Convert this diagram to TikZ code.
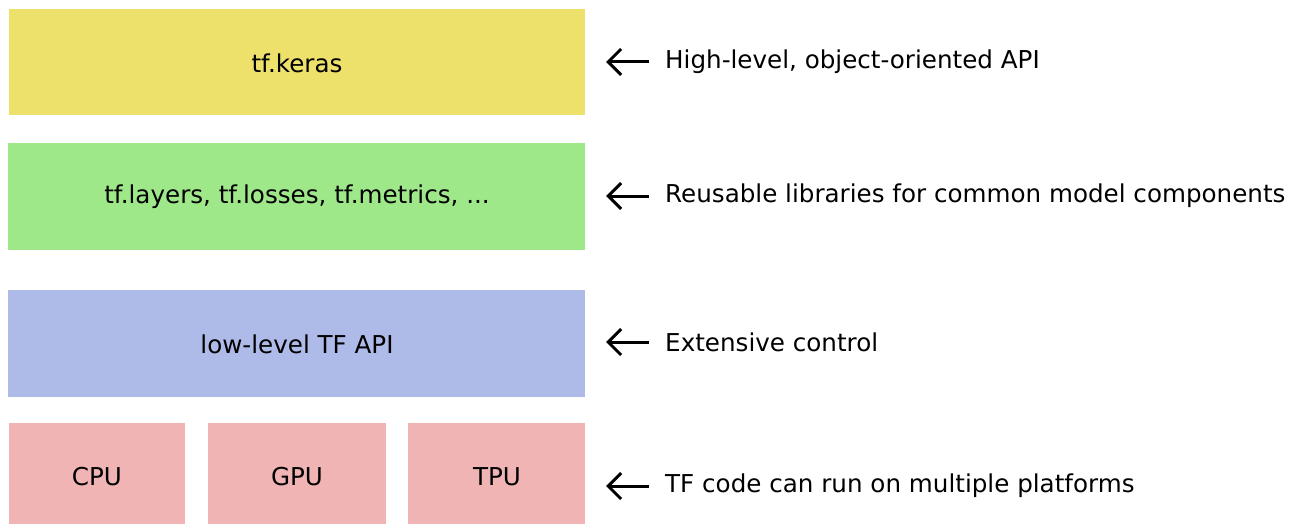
\documentclass[tikz,border=0pt]{standalone}
\usepackage{fontspec}
\setmainfont{DejaVu Sans}
\usetikzlibrary{arrows.meta}
\definecolor{cyel}{RGB}{237,225,107}
\definecolor{cgrn}{RGB}{158,232,138}
\definecolor{cblu}{RGB}{174,187,232}
\definecolor{cpnk}{RGB}{240,180,180}
\begin{document}
\begin{tikzpicture}[x=1pt,y=-1pt,
  layer/.style={inner sep=0pt, outer sep=0pt, font=\fontsize{24.6}{29}\selectfont},
  note/.style={anchor=west, inner sep=0pt, font=\fontsize{24.6}{29}\selectfont},
  pt/.style={-{Straight Barb[length=13pt,width=26pt,line width=3pt]}, line width=3pt}]
\useasboundingbox (0,0) rectangle (1306,524);
\fill[cyel] (9,9) rectangle (585,115);
\node[layer] (keras) at (297,63) {tf.keras};
\fill[cgrn] (8,143) rectangle (585,250);
\node[layer] (libs) at (297,197) {tf.layers, tf.losses, tf.metrics, ...};
\fill[cblu] (8,290) rectangle (585,397);
\node[layer] (low) at (297,344) {low-level TF API};
\fill[cpnk] (9,423) rectangle (185,524);
\fill[cpnk] (208,423) rectangle (386,524);
\fill[cpnk] (408,423) rectangle (585,524);
\node[layer] (cpu) at (97,477) {CPU};
\node[layer] (gpu) at (297,477) {GPU};
\node[layer] (tpu) at (497,477) {TPU};
\node[note] (n1) at (665,62) {High-level, object-oriented API};
\node[note] (n2) at (665,196) {Reusable libraries for common model components};
\node[note] (n3) at (665,342) {Extensive control};
\node[note] (n4) at (665,486) {TF code can run on multiple platforms};
\coordinate (a1) at (606,62);
\coordinate (a2) at (606,196);
\coordinate (a3) at (606,342);
\coordinate (a4) at (606,486);
\draw[pt] ([xshift=-16pt]n1.west) -- (a1);
\draw[pt] ([xshift=-16pt]n2.west) -- (a2);
\draw[pt] ([xshift=-16pt]n3.west) -- (a3);
\draw[pt] ([xshift=-16pt]n4.west) -- (a4);
\end{tikzpicture}
\end{document}
